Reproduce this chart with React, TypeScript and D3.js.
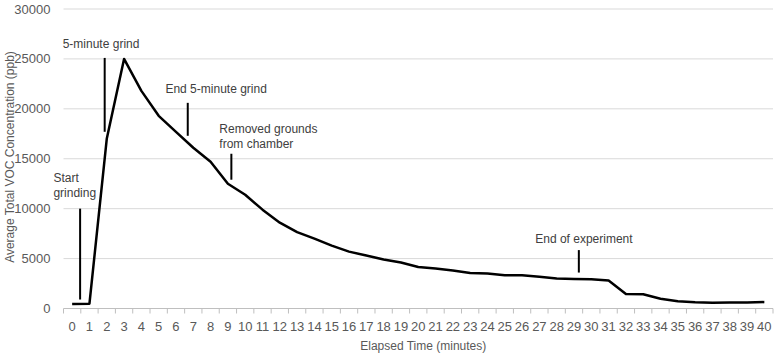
import React, { useRef, useEffect } from "react";
import * as d3 from "d3";

// Elapsed minutes (categories) and averaged VOC readings (ppb)
const minutes: number[] = Array.from({ length: 41 }, (_, i) => i);
const vocValues: number[] = [
  450, 480, 17000, 25000, 21800, 19300, 17700, 16100, 14700, 12500, 11400,
  9900, 8600, 7650, 7000, 6300, 5700, 5300, 4900, 4600, 4150, 4000, 3800,
  3550, 3500, 3320, 3320, 3180, 3000, 2950, 2920, 2800, 1450, 1420, 980, 720,
  620, 580, 600, 610, 640,
];
const yTicks: number[] = [0, 5000, 10000, 15000, 20000, 25000, 30000];

// Event markers: x in minutes, vertical line from y0 to y1 (ppb)
const markerLabels: string[][] = [
  ["Start", "grinding"],
  ["5-minute grind"],
  ["End 5-minute grind"],
  ["Removed grounds", "from chamber"],
  ["End of experiment"],
];
const markerX: number[] = [0.46, 1.88, 6.68, 9.2, 29.28];
const markerY0: number[] = [900, 17700, 17300, 12900, 3600];
const markerY1: number[] = [10000, 25100, 20600, 15500, 5850];

const WIDTH = 778;
const HEIGHT = 354;
const FONT = "'Liberation Sans', Arial, sans-serif";

const App: React.FC = () => {
  const svgRef = useRef<SVGSVGElement | null>(null);

  useEffect(() => {
    if (!svgRef.current) return;
    const margin = { top: 9, right: 5, bottom: 45.5, left: 63.5 };
    const plotW = WIDTH - margin.left - margin.right;
    const plotH = HEIGHT - margin.top - margin.bottom;

    const svg = d3.select(svgRef.current);
    svg.selectAll("*").remove();
    const g = svg
      .append("g")
      .attr("transform", `translate(${margin.left},${margin.top})`);

    // category axis: band edges at -0.5 .. 40.5
    const x = d3.scaleLinear().domain([-0.5, 40.5]).range([0, plotW]);
    const y = d3.scaleLinear().domain([0, 30000]).range([plotH, 0]);

    // gridlines
    g.append("g")
      .selectAll("line")
      .data(yTicks.slice(1))
      .enter()
      .append("line")
      .attr("x1", 0)
      .attr("x2", plotW)
      .attr("y1", (d) => y(d))
      .attr("y2", (d) => y(d))
      .attr("stroke", "#d9d9d9")
      .attr("stroke-width", 1);

    // y tick labels
    g.append("g")
      .selectAll("text")
      .data(yTicks)
      .enter()
      .append("text")
      .attr("x", -13)
      .attr("y", (d) => y(d))
      .attr("dy", "0.35em")
      .attr("text-anchor", "end")
      .attr("font-family", FONT)
      .attr("font-size", 13)
      .attr("fill", "#595959")
      .text((d) => String(d));

    // x axis line and ticks
    g.append("line")
      .attr("x1", 0)
      .attr("x2", plotW)
      .attr("y1", plotH)
      .attr("y2", plotH)
      .attr("stroke", "#bfbfbf");
    g.append("g")
      .selectAll("line")
      .data(d3.range(42))
      .enter()
      .append("line")
      .attr("x1", (d) => x(d - 0.5))
      .attr("x2", (d) => x(d - 0.5))
      .attr("y1", plotH)
      .attr("y2", plotH + 5)
      .attr("stroke", "#bfbfbf");
    g.append("g")
      .selectAll("text")
      .data(minutes)
      .enter()
      .append("text")
      .attr("x", (d) => x(d))
      .attr("y", plotH + 22)
      .attr("text-anchor", "middle")
      .attr("font-family", FONT)
      .attr("font-size", 13)
      .attr("fill", "#595959")
      .text((d) => String(d));

    // axis titles
    g.append("text")
      .attr("x", plotW / 2 + 5)
      .attr("y", plotH + 41)
      .attr("text-anchor", "middle")
      .attr("font-family", FONT)
      .attr("font-size", 12)
      .attr("fill", "#595959")
      .text("Elapsed Time (minutes)");
    svg
      .append("text")
      .attr("transform", `translate(14,157) rotate(-90)`)
      .attr("text-anchor", "middle")
      .attr("font-family", FONT)
      .attr("font-size", 12)
      .attr("fill", "#595959")
      .text("Average Total VOC Concentration (ppb)");

    // data line
    const line = d3
      .line<number>()
      .x((_d, i) => x(minutes[i]))
      .y((d) => y(d));
    g.append("path")
      .datum(vocValues)
      .attr("d", line)
      .attr("fill", "none")
      .attr("stroke", "#000")
      .attr("stroke-width", 2.5)
      .attr("stroke-linejoin", "round");

    // markers: label offsets relative to the top of each marker line
    const labelDx = [-26.7, -42, -22.3, -12, -43.6];
    const labelDy = [-11.3, -10.3, -10, -5.6, -7.4];
    markerX.forEach((mx, i) => {
      const px = x(mx);
      const top = y(markerY1[i]);
      g.append("line")
        .attr("x1", px)
        .attr("x2", px)
        .attr("y1", y(markerY0[i]))
        .attr("y2", top)
        .attr("stroke", "#000")
        .attr("stroke-width", 2);
      const lines = markerLabels[i];
      const t = g
        .append("text")
        .attr("font-family", FONT)
        .attr("font-size", 12)
        .attr("fill", "#404040");
      lines.forEach((s, j) => {
        t.append("tspan")
          .attr("x", px + labelDx[i])
          .attr("y", top + labelDy[i] - (lines.length - 1 - j) * 15)
          .text(s);
      });
    });
  }, []);

  return (
    <svg
      ref={svgRef}
      width={WIDTH}
      height={HEIGHT}
      style={{ position: "absolute", left: 0, top: 0, background: "#fff" }}
    />
  );
};

export default App;
